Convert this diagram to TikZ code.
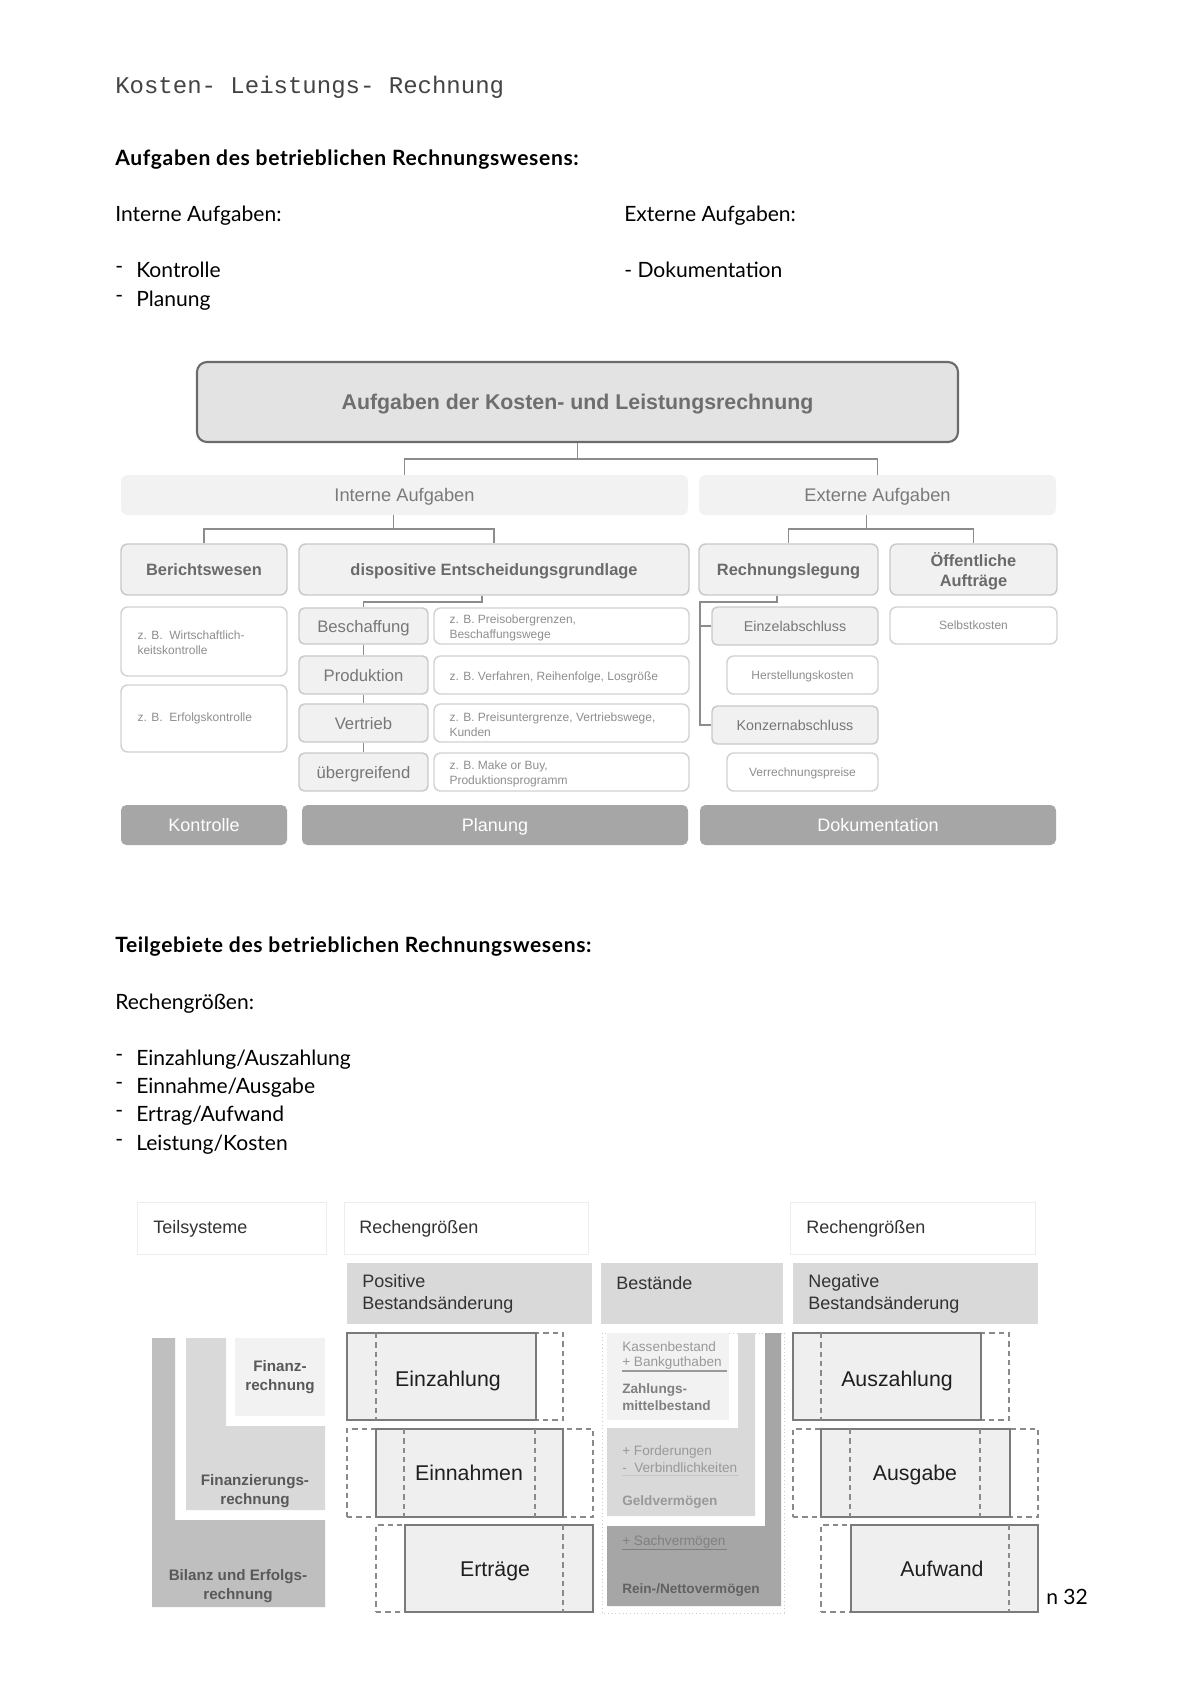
\documentclass[tikz,border=0pt]{standalone}
\usepackage{fontspec}
\setmainfont{Liberation Sans}
\newfontfamily\bodyf{Lato}
\newfontfamily\bodybf[LetterSpace=3]{Lato Bold}
\newfontfamily\monof{Liberation Mono}
\usetikzlibrary{calc}
\newcommand\fsz[2]{\fontsize{#1pt}{#2pt}\selectfont}
\newcommand\bx[7]{%
  \pgfmathsetmacro\bxw{(#5-#3)*0.75}%
  \pgfmathsetmacro\bxh{(#6-#4)*0.75}%
  \node[#1, inner sep=0pt, minimum width=\bxw pt, minimum height=\bxh pt] (#2) at ({(#3+#5)/2},{(#4+#6)/2}) {#7};}
\definecolor{cline}{HTML}{8C8C8C}
\definecolor{mainfill}{HTML}{E3E3E3}
\definecolor{mainborder}{HTML}{6B6B6B}
\definecolor{grpfill}{HTML}{F2F2F2}
\definecolor{catfill}{HTML}{F1F1F1}
\definecolor{catborder}{HTML}{C9C9C9}
\definecolor{exborder}{HTML}{D2D2D2}
\definecolor{barfill}{HTML}{A6A6A6}
\definecolor{txtmain}{HTML}{6E6E6E}
\definecolor{txtgrp}{HTML}{7A7A7A}
\definecolor{txtcat}{HTML}{6A6A6A}
\definecolor{txtsub}{HTML}{777777}
\definecolor{txtex}{HTML}{8E8E8E}
\definecolor{titlegray}{HTML}{444444}
\definecolor{hdrborder}{HTML}{EDEDED}
\definecolor{colfill}{HTML}{D9D9D9}
\definecolor{valfill}{HTML}{EFEFEF}
\definecolor{valborder}{HTML}{7A7A7A}
\definecolor{dshcol}{HTML}{8A8A8A}
\definecolor{lightfill}{HTML}{F2F2F2}
\definecolor{darkA}{HTML}{BFBFBF}
\definecolor{darkB}{HTML}{A6A6A6}
\definecolor{dottcol}{HTML}{CCCCCC}
\begin{document}
\begin{tikzpicture}[x=0.75pt,y=-0.75pt,
  body/.style={anchor=base west, inner sep=0pt, font=\bodyf\fsz{15.8}{19}, text=black},
  bodyb/.style={body, font=\bodybf\fsz{15.8}{19}},
  mainbox/.style={rounded corners=7.5pt, fill=mainfill, draw=mainborder, line width=1.6pt, font=\bfseries\fsz{16}{19}, text=txtmain, text depth=0pt},
  grp/.style={rounded corners=5pt, fill=grpfill, font=\fsz{13.7}{16}, text=txtgrp, text depth=0pt},
  cat/.style={rounded corners=5pt, fill=catfill, draw=catborder, line width=1.1pt, font=\bfseries\fsz{12.3}{14.3}, text=txtcat, align=center, text depth=0pt},
  subbox/.style={rounded corners=4pt, fill=catfill, draw=catborder, line width=1.1pt, font=\fsz{12.5}{15}, text=txtsub, text depth=0pt},
  subsm/.style={subbox, font=\fsz{10.7}{13}},
  ex/.style={rounded corners=5pt, fill=white, draw=exborder, line width=1.1pt, font=\fsz{9}{11}, text=txtex, text depth=0pt},
  extxt/.style={anchor=west, inner sep=0pt, align=left, font=\fsz{9}{11}, text=txtex},
  bar/.style={rounded corners=4pt, fill=barfill, font=\fsz{13.5}{16}, text=white, text depth=0pt},
  conn/.style={draw=cline, line width=1.4pt},
  hdr/.style={fill=white, draw=hdrborder, line width=0.75pt},
  colhdr/.style={fill=colfill},
  hdrtxt/.style={anchor=west, inner sep=0pt, align=left, font=\fsz{13.5}{16.5}, text=black!80},
  val/.style={fill=valfill, draw=valborder, line width=1.1pt},
  valtxt/.style={inner sep=0pt, font=\fsz{16}{19}, text=black!88, text depth=0pt},
  dsh/.style={draw=dshcol, dash pattern=on 4pt off 3pt, line width=0.9pt},
  tsb/.style={inner sep=0pt, align=center, font=\bfseries\fsz{11.4}{14.3}, text=black!65},
  bt/.style={anchor=west, inner sep=0pt, font=\fsz{10.2}{12}, text=black!40},
  btb/.style={bt, font=\bfseries\fsz{10.2}{12}}
]
\path[fill=white, use as bounding box] (0,0) rectangle (1200,1697);

% ---------- page text ----------
\node[body, font=\monof\fsz{18}{20}, text=titlegray] (title) at (115,93) {Kosten- Leistungs- Rechnung};
\node[bodyb] (h1) at (115,165) {Aufgaben des betrieblichen Rechnungswesens:};
\node[body] (intA) at (115,221) {Interne Aufgaben:};
\node[body] (extA) at (624,221) {Externe Aufgaben:};
\node[body] (d1) at (115,273) {-};
\node[body] (l1) at (136,277) {Kontrolle};
\node[body] (d2) at (115,302) {-};
\node[body] (l2) at (136,306) {Planung};
\node[body] (l3) at (624,277) {- Dokumentation};

\node[bodyb] (h2) at (115,952) {Teilgebiete des betrieblichen Rechnungswesens:};
\node[body] (rg) at (115,1009) {Rechengrößen:};
\node[body] (d3) at (115,1061) {-};
\node[body] (i1) at (136,1065) {Einzahlung/Auszahlung};
\node[body] (d4) at (115,1089) {-};
\node[body] (i2) at (136,1093) {Einnahme/Ausgabe};
\node[body] (d5) at (115,1117) {-};
\node[body] (i3) at (136,1121) {Ertrag/Aufwand};
\node[body] (d6) at (115,1146) {-};
\node[body] (i4) at (136,1150) {Leistung/Kosten};

% ---------- upper diagram ----------
\bx{mainbox}{main}{197}{362}{958}{442}{Aufgaben der Kosten- und Leistungsrechnung}
\bx{grp}{intern}{121}{475}{688}{515}{Interne Aufgaben}
\bx{grp}{extern}{699}{475}{1056}{515}{Externe Aufgaben}
\bx{cat}{berichts}{121}{544}{287}{595}{Berichtswesen}
\bx{cat}{dispo}{299}{544}{689}{595}{dispositive Entscheidungsgrundlage}
\bx{cat}{rechleg}{699}{544}{878}{595}{Rechnungslegung}
\bx{cat}{oeff}{890}{544}{1057}{595}{Öffentliche\\Aufträge}

\bx{ex}{wirt}{121}{607}{287}{676}{}
\node[extxt] (wirtT) at ($(wirt.west)+(17,1)$) {z. B.\ \ Wirtschaftlich-\\keitskontrolle};
\bx{ex}{erfolg}{121}{685}{287}{752}{}
\node[extxt] (erfolgT) at ($(erfolg.west)+(17,0)$) {z. B.\ \ Erfolgskontrolle};

\bx{subbox}{besch}{299}{608}{428}{644}{Beschaffung}
\bx{subbox}{prod}{299}{656}{428}{694}{Produktion}
\bx{subbox}{vertr}{299}{704}{428}{742}{Vertrieb}
\bx{subbox}{uebgr}{299}{753}{428}{791}{übergreifend}

\bx{ex}{exbesch}{434}{608}{689}{644}{}
\node[extxt] (exbeschT) at ($(exbesch.west)+(16,2)$) {z. B. Preisobergrenzen,\\Beschaffungswege};
\bx{ex}{exprod}{434}{656}{689}{694}{}
\node[extxt] (exprodT) at ($(exprod.west)+(16,2)$) {z. B. Verfahren, Reihenfolge, Losgröße};
\bx{ex}{exvertr}{434}{704}{689}{742}{}
\node[extxt] (exvertrT) at ($(exvertr.west)+(16,2)$) {z. B. Preisuntergrenze, Vertriebswege,\\Kunden};
\bx{ex}{exuebgr}{434}{753}{689}{791}{}
\node[extxt] (exuebgrT) at ($(exuebgr.west)+(16,2)$) {z. B. Make or Buy,\\Produktionsprogramm};

\bx{subsm}{einzel}{712}{607}{878}{645}{Einzelabschluss}
\bx{ex}{herst}{727}{656}{878}{694}{Herstellungskosten}
\bx{subsm}{konzern}{712}{706}{878}{744}{Konzernabschluss}
\bx{ex}{verr}{727}{753}{878}{791}{Verrechnungspreise}
\bx{ex}{selbst}{890}{607}{1057}{644}{Selbstkosten}

\bx{bar}{kontrolle}{121}{805}{287}{845}{Kontrolle}
\bx{bar}{planung}{302}{805}{688}{845}{Planung}
\bx{bar}{doku}{700}{805}{1056}{845}{Dokumentation}

% connectors
\draw[conn] (main.south) -- ++(0,16) -| (intern.north);
\draw[conn] (main.south) -- ++(0,16) -| (extern.north);
\coordinate (iroot) at ($(intern.south)+(-11,0)$);
\draw[conn] (iroot) -- ++(0,14) -| (berichts.north);
\draw[conn] (iroot) -- ++(0,14) -| (dispo.north);
\coordinate (eroot) at ($(extern.south)+(-11,0)$);
\draw[conn] (eroot) -- ++(0,14) -| (rechleg.north);
\draw[conn] (eroot) -- ++(0,14) -| (oeff.north);
\coordinate (droot) at ($(dispo.south)+(-12,0)$);
\draw[conn] (droot) -- ++(0,6) -| (besch.north);
\draw[conn] (besch.south) -- (prod.north);
\draw[conn] (prod.south) -- (vertr.north);
\draw[conn] (vertr.south) -- (uebgr.north);
\coordinate (rroot) at ($(rechleg.south)+(-11.5,0)$);
\coordinate (kbend) at ($(konzern.west)+(-11,0)$);
\coordinate (ebend) at ($(einzel.west)+(-11,0)$);
\draw[conn] (rroot) -- ++(0,6) -| (kbend) -- (konzern.west);
\draw[conn] (ebend) -- (einzel.west);

% ---------- lower diagram ----------
\bx{hdr}{teil}{137}{1202}{326}{1254}{}
\node[hdrtxt] (teilT) at (153,1229) {Teilsysteme};
\bx{hdr}{rgl}{344}{1202}{588}{1254}{}
\node[hdrtxt] (rglT) at (359,1229) {Rechengrößen};
\bx{hdr}{rgr}{790}{1202}{1035}{1254}{}
\node[hdrtxt] (rgrT) at (806,1229) {Rechengrößen};
\bx{colhdr}{pos}{347}{1263}{592}{1324}{}
\node[hdrtxt] (posT) at (362,1294) {Positive\\Bestandsänderung};
\bx{colhdr}{best}{601}{1263}{783}{1324}{}
\node[hdrtxt] (bestT) at (616,1283) {Bestände};
\bx{colhdr}{neg}{793}{1263}{1038}{1324}{}
\node[hdrtxt] (negT) at (808,1294) {Negative\\Bestandsänderung};

% Teilsysteme L-shapes
\fill[darkA] (152,1338) -- (175,1338) -- (175,1520) -- (325,1520) -- (325,1607) -- (152,1607) -- cycle;
\fill[colfill] (186,1338) -- (226,1338) -- (226,1426) -- (325,1426) -- (325,1510) -- (186,1510) -- cycle;
\fill[lightfill] (235,1338) rectangle (325,1416);
\node[tsb] (finT) at (280,1377) {Finanz-\\rechnung};
\node[tsb] (fzT) at (255,1491) {Finanzierungs-\\rechnung};
\node[tsb] (bilT) at (238,1586) {Bilanz und Erfolgs-\\rechnung};

% Bestaende column
\draw[dottcol, dotted, line width=0.75pt] (602,1333) rectangle (784,1613);
\fill[darkB] (765,1333) -- (781,1333) -- (781,1606) -- (607,1606) -- (607,1526) -- (765,1526) -- cycle;
\fill[colfill] (738,1333) -- (755,1333) -- (755,1516) -- (607,1516) -- (607,1428) -- (738,1428) -- cycle;
\fill[lightfill] (607,1333) rectangle (729,1420);
\node[bt] (kass) at (622,1347) {Kassenbestand};
\node[bt] (bank) at (622,1363) {+ Bankguthaben};
\draw[black!40, line width=0.8pt] (622,1371) -- (727,1371);
\node[btb, text=black!50] (zm1) at (622,1390) {Zahlungs-};
\node[btb, text=black!50] (zm2) at (622,1406) {mittelbestand};
\node[bt] (ford) at (622,1452) {+ Forderungen};
\node[bt] (verb) at (622,1468) {-\ \ Verbindlichkeiten};
\draw[black!22, line width=0.6pt] (622,1475) -- (739,1475);
\node[btb] (geld) at (622,1502) {Geldvermögen};
\node[bt, text=black!50] (sach) at (622,1542) {+ Sachvermögen};
\draw[black!50, line width=0.7pt] (622,1549) -- (727,1549);
\node[btb, text=black!62] (rein) at (622,1590) {Rein-/Nettovermögen};

% positive side
\bx{dsh}{einzD}{347}{1333}{563}{1420}{}
\bx{val}{einz}{347}{1333}{536}{1420}{}
\draw[dsh] (376,1333) -- (376,1420);
\node[valtxt] (einzT) at (448,1379) {Einzahlung};

\bx{dsh}{einnD}{347}{1429}{593}{1517}{}
\bx{val}{einn}{376}{1429}{563}{1517}{}
\draw[dsh] (404,1429) -- (404,1517);
\draw[dsh] (535,1429) -- (535,1517);
\node[valtxt] (einnT) at (469,1473) {Einnahmen};

\bx{dsh}{ertrD}{376}{1525}{593}{1612}{}
\bx{val}{ertr}{405}{1525}{593}{1612}{}
\draw[dsh] (563,1525) -- (563,1612);
\node[valtxt] (ertrT) at (495,1569) {Erträge};

% negative side
\bx{dsh}{auszD}{793}{1333}{1009}{1420}{}
\bx{val}{ausz}{793}{1333}{981}{1420}{}
\draw[dsh] (821,1333) -- (821,1420);
\node[valtxt] (auszT) at (897,1379) {Auszahlung};

\bx{dsh}{ausgD}{793}{1429}{1038}{1517}{}
\bx{val}{ausg}{821}{1429}{1010}{1517}{}
\draw[dsh] (850,1429) -- (850,1517);
\draw[dsh] (980,1429) -- (980,1517);
\node[valtxt] (ausgT) at (915,1473) {Ausgabe};

\bx{dsh}{aufwD}{821}{1525}{1038}{1612}{}
\bx{val}{aufw}{851}{1525}{1038}{1612}{}
\draw[dsh] (1009,1525) -- (1009,1612);
\node[valtxt] (aufwT) at (942,1569) {Aufwand};

\node[body, anchor=west] (pg) at (1046,1597) {n 32};
\end{tikzpicture}
\end{document}
